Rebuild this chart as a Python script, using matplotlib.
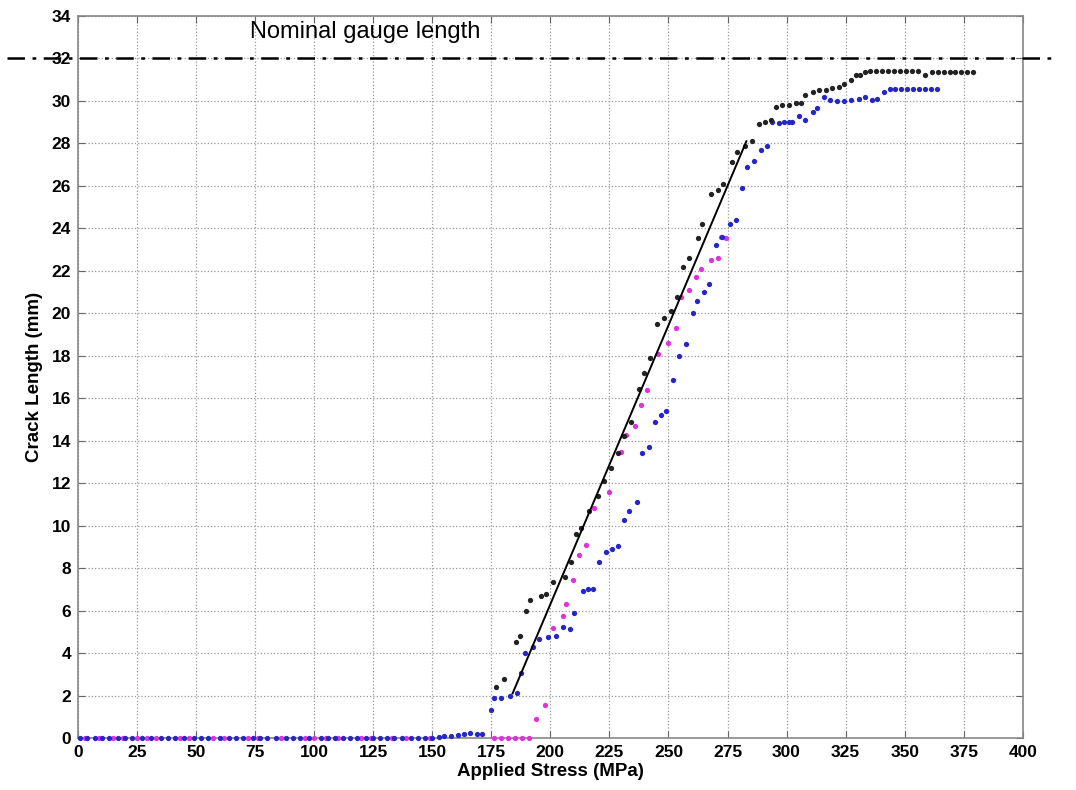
import numpy as np
import matplotlib
matplotlib.use("Agg")
import matplotlib.pyplot as plt

plt.rcParams["font.family"] = ["Liberation Sans", "DejaVu Sans"]

# specimen A (black)
black_stress = [177, 180.5, 185.5, 187, 189.7, 191.4, 196, 198, 201, 206, 208.7, 210.8,
                213, 216.5, 220, 222.8, 225.6, 228.5, 231.3, 234, 237.6, 239.7, 242.1, 245,
                248.2, 251, 253.8, 256.2, 258.8, 262.3, 264.4, 267.9, 270.8, 273.3, 276.8,
                279.2, 282.4, 285.5, 288.4, 291, 293.5, 295.4, 298.2, 301, 303.8, 306, 308,
                311, 313.7, 316.6, 319.4, 322.2, 324.5, 327.1, 329.2, 331.3, 333.4, 335.5,
                338, 340.5, 343, 345.5, 348, 350.5, 353, 355.5, 358.8, 361.5, 364, 366.5,
                369, 371.5, 374, 376.5, 379]
black_crack = [2.4, 2.8, 4.5, 4.8, 6.0, 6.5, 6.7, 6.8, 7.35, 7.6, 8.3, 9.6,
               9.9, 10.7, 11.4, 12.1, 12.7, 13.4, 14.2, 14.9, 16.45, 17.2, 17.9, 19.5,
               19.8, 20.1, 20.75, 22.2, 22.6, 23.55, 24.2, 25.6, 25.8, 26.1, 27.1,
               27.6, 27.9, 28.1, 28.9, 29.0, 29.1, 29.7, 29.8, 29.8, 29.9, 29.9, 30.3,
               30.4, 30.5, 30.5, 30.6, 30.65, 30.8, 31.0, 31.2, 31.2, 31.35, 31.4,
               31.4, 31.4, 31.4, 31.4, 31.4, 31.4, 31.4, 31.4, 31.2, 31.35, 31.35, 31.35,
               31.35, 31.35, 31.35, 31.35, 31.35]

# specimen B (blue)
blue_stress = [1, 4, 7, 10, 13, 17, 20, 23, 27, 31, 35, 38, 41, 45, 49, 52, 55, 60, 64,
               67, 70, 74, 77, 80, 84, 88, 91, 94, 98, 103, 106, 109, 112, 115, 118,
               122, 125, 128, 131, 134, 137, 141, 144, 147, 150, 153, 155, 158,
               161, 163.5, 166, 169, 171, 174.9, 176.3, 179.1, 182.7, 185.8, 187.6, 189.4,
               192.5, 195.3, 198.9, 202.4, 205.2, 208.5, 209.9, 213.7, 215.8, 217.9, 220.7,
               223.5, 226.3, 228.7, 231.3, 233.4, 236.5, 239, 241.9, 244.4, 246.8, 248.9,
               252, 254.5, 257.6, 260.5, 262.2, 265.1, 267, 270.3, 272.5, 276, 278.8, 281,
               283.4, 286.3, 289, 291.9, 294, 296.8, 298.9, 301, 302.5, 305.3, 308, 311,
               313, 315.8, 318.6, 321.5, 324.3, 327.1, 330.6, 333.4, 336.3, 338.4, 341.2,
               343.6, 346, 348.5, 351, 353.5, 356, 358.5, 361, 363.5]
blue_crack = [0, 0, 0, 0, 0, 0, 0, 0, 0, 0, 0, 0, 0, 0, 0, 0, 0, 0, 0,
              0, 0, 0, 0, 0, 0, 0, 0, 0, 0, 0, 0, 0, 0, 0, 0,
              0, 0, 0, 0, 0, 0, 0, 0, 0, 0, 0.05, 0.1, 0.1,
              0.15, 0.2, 0.25, 0.2, 0.2, 1.3, 1.87, 1.87, 2.0, 2.13, 3.04, 4.0,
              4.3, 4.66, 4.76, 4.8, 5.24, 5.11, 5.9, 6.9, 7.0, 7.0, 8.3,
              8.77, 8.9, 9.05, 10.25, 10.7, 11.1, 13.4, 13.7, 14.9, 15.2, 15.4,
              16.84, 18.0, 18.57, 20.0, 20.6, 21.0, 21.4, 23.2, 23.6, 24.2, 24.4, 25.9,
              26.9, 27.15, 27.7, 27.9, 29.0, 28.94, 29.0, 29.0, 29.0, 29.3, 29.1, 29.5,
              29.66, 30.17, 30.04, 30.0, 30.0, 30.04, 30.1, 30.2, 30.04, 30.1, 30.4,
              30.55, 30.55, 30.55, 30.55, 30.55, 30.55, 30.55, 30.55, 30.55]

# specimen C (magenta)
mag_stress = [3, 9, 15, 19, 25, 29, 33, 43, 47, 57, 62, 72, 76, 86, 96, 100, 105,
              110, 120, 124, 133, 139, 149,
              176, 179, 182, 185, 188, 191, 194, 197.9, 201.3, 205.2, 206.6, 209.4, 212.3,
              215, 218.6, 225, 229.9, 232, 236, 238.3, 241.1, 245.4, 249.6, 253.1, 255.2,
              258.8, 261.6, 263.7, 267.9, 270.8, 272.1, 274.2]
mag_crack = [0, 0, 0, 0, 0, 0, 0, 0, 0, 0, 0, 0, 0, 0, 0, 0, 0,
             0, 0, 0, 0, 0, 0,
             0, 0, 0, 0, 0, 0, 0.88, 1.55, 5.2, 5.74, 6.33, 7.45, 8.6,
             9.1, 10.85, 11.6, 13.47, 14.25, 14.7, 15.66, 16.4, 18.1, 18.6, 19.3, 20.75,
             21.1, 21.7, 22.1, 22.5, 22.6, 23.6, 23.55]

# linear fit through growth region
fit_stress = [184, 283]
fit_crack = [2.1, 28.1]

GAUGE_LENGTH = 32
x_ticks = list(range(0, 401, 25))
y_ticks = list(range(0, 35, 2))

fig = plt.figure(figsize=(10.76, 7.90), dpi=100)
ax = fig.add_axes([0.0725, 0.0658, 0.878, 0.914])

ax.grid(True, linestyle=":", color="#999999", linewidth=0.9)
ax.set_axisbelow(True)

ms = 3.8
ax.plot(mag_stress, mag_crack, "o", color="#e030e0", ms=ms, mew=0, zorder=3, clip_on=False)
ax.plot(blue_stress, blue_crack, "o", color="#2525cc", ms=ms, mew=0, zorder=4, clip_on=False)
ax.plot(black_stress, black_crack, "o", color="#222222", ms=ms, mew=0, zorder=5, clip_on=False)
ax.plot(fit_stress, fit_crack, "-", color="black", lw=1.4, zorder=6)

ax.axhline(GAUGE_LENGTH, xmin=-0.075, xmax=1.03, color="black", lw=1.8,
           linestyle=(0, (7, 3, 1.5, 3)), clip_on=False, zorder=7)
ax.text(73, 33.25, "Nominal gauge length", fontsize=17, va="center", ha="left")

ax.set_xlim(0, 400)
ax.set_ylim(0, 34)
ax.set_xticks(x_ticks)
ax.set_yticks(y_ticks)
ax.tick_params(direction="in", top=True, right=True, length=5, width=0.8,
               color="#666666", labelsize=12.5, pad=5)
for lab in ax.get_xticklabels() + ax.get_yticklabels():
    lab.set_fontweight("bold")
for sp in ax.spines.values():
    sp.set_color("#888888")
    sp.set_linewidth(1.2)

ax.set_xlabel("Applied Stress (MPa)", fontsize=13.5, fontweight="bold", labelpad=2)
ax.set_ylabel("Crack Length (mm)", fontsize=13.5, fontweight="bold", labelpad=6)

fig.savefig("out.png", dpi=100)
plt.close(fig)
